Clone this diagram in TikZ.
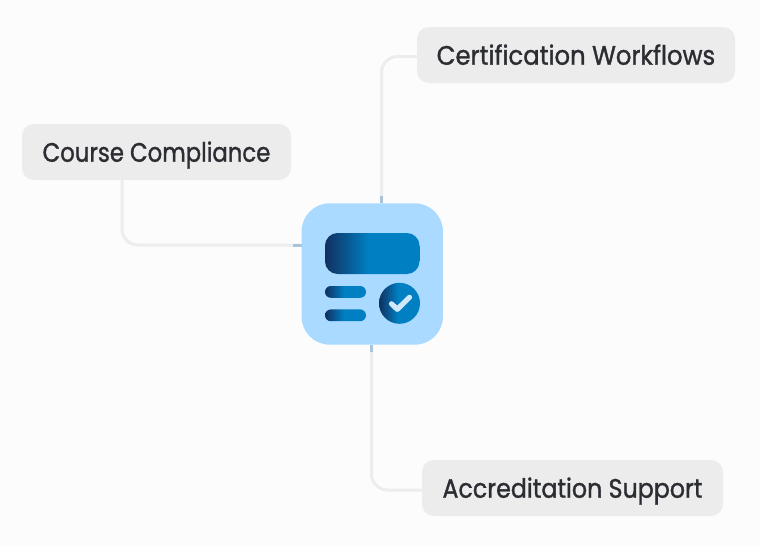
\documentclass[tikz,border=0pt]{standalone}
\usepackage{fontspec}
\setmainfont{Poppins}
\newfontfamily\coursefont{Poppins}[FakeStretch=0.855,FakeBold=1.2]
\newfontfamily\certiffont{Poppins}[FakeStretch=0.912,FakeBold=1.2]
\newfontfamily\accredfont{Poppins}[FakeStretch=0.89,FakeBold=1.2]
\definecolor{pagebg}{HTML}{FCFCFD}
\definecolor{tagfill}{HTML}{ECECEC}
\definecolor{tagtext}{HTML}{2B2D33}
\definecolor{wirecol}{HTML}{ECEDEE}
\definecolor{stubcol}{HTML}{A9C3D9}
\definecolor{hubfill}{HTML}{AADAFF}
\definecolor{tickcol}{HTML}{CFE8FB}
\definecolor{fadedark}{HTML}{11305F}
\definecolor{fadeblue}{HTML}{007FC3}
\pgfdeclarehorizontalshading{iconfade}{100bp}{color(0bp)=(fadedark); color(25bp)=(fadedark); color(48bp)=(fadeblue); color(100bp)=(fadeblue)}
\tikzset{
  tagbox/.style={fill=tagfill,text=tagtext,rounded corners=9pt,minimum height=42pt,inner sep=0pt,text height=14.6pt,text depth=0pt},
  wire/.style={draw=wirecol,line width=2.25pt,rounded corners=12pt},
  stub/.style={draw=stubcol,line width=2.25pt},
  fade/.style={shading=iconfade,shading angle=0}
}
\begin{document}
\begin{tikzpicture}[x=0.75pt,y=0.75pt,yscale=-1,xscale=1]
\useasboundingbox[fill=pagebg] (0,0) rectangle (760,546);

%Straight Lines
\coordinate (courseout) at (122,178);
\coordinate (coursein) at (301.5,245);
\coordinate (certifout) at (420,56.5);
\coordinate (certifin) at (381.5,203);
\coordinate (accredout) at (425,490);
\coordinate (accredin) at (371.5,345);
\draw [wire] (courseout) |- (coursein);
\draw [wire] (certifout) -| (certifin);
\draw [wire] (accredin) |- (accredout);
\draw [stub] (coursein) -- ++(-9,0);
\draw [stub] (certifin) -- ++(0,-7);
\draw [stub] (accredin) -- ++(0,7);

% Text Node
\node [tagbox,minimum width=201.75pt,font=\coursefont\fontsize{20}{24}\selectfont] (course) at (156.5,152) {Course Compliance};
\node [tagbox,minimum width=238.5pt,font=\certiffont\fontsize{20}{24}\selectfont] (certif) at (576,55) {Certification Workflows};
\node [tagbox,minimum width=225.75pt,font=\accredfont\fontsize{20}{24}\selectfont] (accred) at (572.5,488) {Accreditation Support};
%Shape: Rectangle hub
\node [fill=hubfill,rounded corners=21pt,minimum width=106pt,minimum height=106pt,inner sep=0pt] (hub) at (372.25,274) {};

%Shape: icon
\path [fade,rounded corners=9.5pt] (325,233) rectangle (419.5,274);
\path [fade,rounded corners=4.4pt] (325,286) rectangle (366,297.8);
\path [fade,rounded corners=4.4pt] (325,309.4) rectangle (366,321.2);
\path [fade] (399.5,303.3) circle (20.5);
\draw [tickcol,line width=3.9pt,line cap=round,line join=round] (391.5,303.8) -- (397.3,309.3) -- (409.5,297.3);
\end{tikzpicture}
\end{document}
